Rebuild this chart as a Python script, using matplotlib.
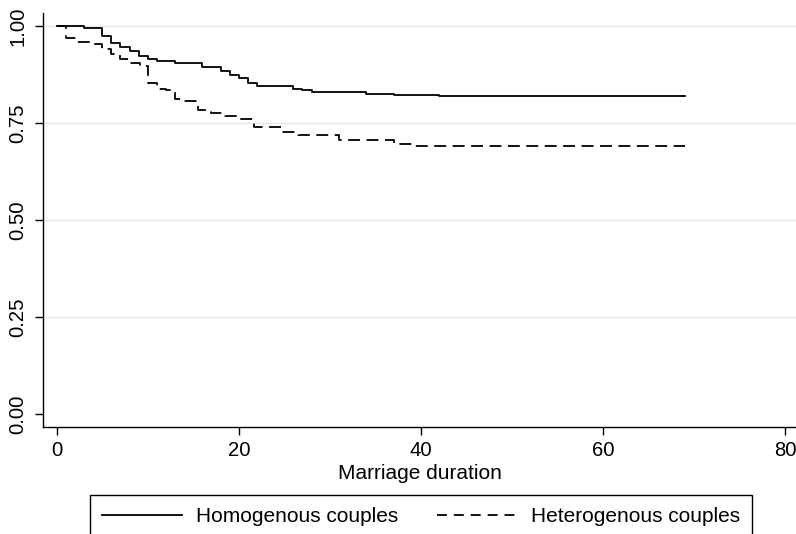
import matplotlib
matplotlib.use("Agg")
import matplotlib.pyplot as plt
from matplotlib.lines import Line2D

plt.rcParams['font.family'] = ['Liberation Sans', 'DejaVu Sans']

# Kaplan-Meier style step data (time, survival)
homo_t = [0, 3, 5, 6, 7, 8, 9, 10, 11, 13, 16, 18, 19, 20, 21, 22, 26, 27, 28, 34, 37, 42, 69]
homo_s = [1.0, 0.994, 0.974, 0.955, 0.947, 0.936, 0.924, 0.915, 0.910, 0.904, 0.895, 0.884,
          0.875, 0.865, 0.853, 0.845, 0.839, 0.835, 0.829, 0.826, 0.823, 0.821, 0.821]

hetero_t = [0, 1, 2.2, 4, 5, 6, 7, 8, 9.2, 10, 11, 12, 13, 14, 15.5, 17, 18.5, 20, 21.7,
            24.8, 26.5, 31, 37, 39, 69]
hetero_s = [1.0, 0.968, 0.958, 0.953, 0.940, 0.927, 0.914, 0.906, 0.897, 0.853, 0.839, 0.835,
            0.813, 0.808, 0.783, 0.777, 0.768, 0.761, 0.740, 0.727, 0.720, 0.706, 0.696, 0.692, 0.692]

labels = ["Homogenous couples", "Heterogenous couples"]
xticks = [0, 20, 40, 60, 80]
yticks = [0.0, 0.25, 0.5, 0.75, 1.0]
ytick_labels = ["0.00", "0.25", "0.50", "0.75", "1.00"]

W, H = 796, 534
LW = 1.3
fig = plt.figure(figsize=(W / 100, H / 100), dpi=100)
ax = fig.add_axes([43.3 / W, 1 - 427.3 / H, 1 - 43.3 / W, (427.3 - 13) / H])

ax.step(homo_t, homo_s, where='post', color='black', lw=LW, label=labels[0])
ax.step(hetero_t, hetero_s, where='post', color='black', lw=LW,
        linestyle=(0, (6.6, 3.6)), label=labels[1])

ax.set_xlim(-1.47, 81.21)
ax.set_ylim(-0.033, 1.0335)

ax.set_xticks(xticks)
ax.set_yticks(yticks)
ax.set_yticklabels(ytick_labels, rotation=90, va='center')

for gy in yticks[1:]:
    ax.axhline(gy, color='#e6e6e6', lw=1.0, zorder=0)

for s in ['top', 'right']:
    ax.spines[s].set_visible(False)
for s in ['left', 'bottom']:
    ax.spines[s].set_color('black')
    ax.spines[s].set_linewidth(1.0)

ax.tick_params(axis='both', length=5.8, width=1.0, color='black', labelsize=14.6)
ax.tick_params(axis='x', pad=4.3)
ax.tick_params(axis='y', pad=5.5)

ax.set_xlabel("Marriage duration", fontsize=15, labelpad=3)

handles = [Line2D([], [], color='black', lw=LW),
           Line2D([], [], color='black', lw=LW, linestyle=(0, (5.5, 3.85)))]
leg = fig.legend(handles, labels, loc='upper center', bbox_to_anchor=(421 / W, 1 - 495 / H),
                 ncol=2, fontsize=15, frameon=True, fancybox=False,
                 edgecolor='black', framealpha=1, handlelength=3.85,
                 handletextpad=0.63, columnspacing=1.9, borderpad=0.6,
                 borderaxespad=0)
leg.get_frame().set_linewidth(1.0)

fig.savefig("out.png", dpi=100)
